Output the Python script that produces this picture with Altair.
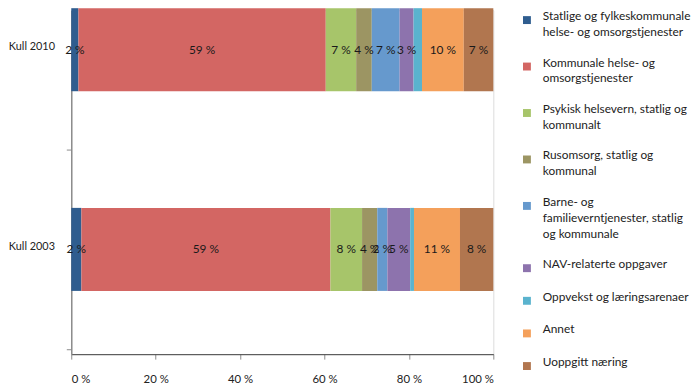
import altair as alt
import pandas as pd

kull = ["Kull 2010", "Kull 2003"]
categories = [
    "Statlige og fylkeskommunale\nhelse- og omsorgstjenester",
    "Kommunale helse- og\nomsorgstjenester",
    "Psykisk helsevern, statlig og\nkommunalt",
    "Rusomsorg, statlig og\nkommunal",
    "Barne- og\nfamilieverntjenester, statlig\nog kommunale",
    "NAV-relaterte oppgaver",
    "Oppvekst og læringsarenaer",
    "Annet",
    "Uoppgitt næring",
]
colors = ["#2F5D8F", "#D36663", "#A7C56A", "#9C9563", "#6699CD",
          "#8D73AD", "#5AB3CE", "#F4A05B", "#B1764F"]
values_2010 = [1.7, 58.6, 7.2, 3.7, 6.6, 3.3, 2.0, 9.9, 7.0]
values_2003 = [2.4, 59.0, 7.5, 3.6, 2.4, 5.4, 0.9, 10.9, 7.9]
labels_2010 = ["2 %", "59 %", "7 %", "4 %", "7 %", "3 %", "", "10 %", "7 %"]
labels_2003 = ["2 %", "59 %", "8 %", "4 %", "2 %", "5 %", "", "11 %", "8 %"]
x_ticks = [0, 20, 40, 60, 80, 100]

series_values = [values_2010, values_2003]
series_labels = [labels_2010, labels_2003]

rows = []
for i, k in enumerate(kull):
    for j, c in enumerate(categories):
        rows.append({
            "kull": k,
            "pos": len(kull) - i - 0.5,
            "cat": c,
            "idx": j,
            "value": series_values[i][j],
            "label": series_labels[i][j],
        })
df = pd.DataFrame(rows)

FONT = "Lato"
W, H = 427, 348
band = 208

y_labels = list(reversed(kull))
label_expr = "[" + ",".join(f"'{k}'" for k in y_labels) + "][datum.value]"

base = alt.Chart(df).transform_stack(
    stack="value", groupby=["kull"], sort=[alt.SortField("idx")], as_=["v0", "v1"]
).transform_calculate(mid="(datum.v0 + datum.v1) / 2")

yenc = alt.Y(
    "pos:Q",
    scale=alt.Scale(domain=[0, H / band], nice=False, zero=True),
    axis=alt.Axis(
        values=[0, 1], labelExpr=label_expr, labelOffset=-band / 2,
        title=None, grid=False, tickSize=5, labelPadding=12,
        domainColor="#8c8c8c", tickColor="#8c8c8c", domainWidth=1.5,
        labelFontSize=11, labelColor="#222222", labelFont=FONT,
    ),
)

bars = base.mark_bar(size=84).encode(
    x=alt.X(
        "v0:Q",
        scale=alt.Scale(domain=[0, 100], nice=False),
        axis=alt.Axis(
            values=x_ticks, labelExpr="datum.value + ' %'", title=None, grid=False,
            tickSize=5, labelPadding=15, domainColor="#404040", domainWidth=1,
            tickColor="#8c8c8c", labelFontSize=11.5, labelColor="#222222",
            labelFont=FONT,
        ),
    ),
    x2="v1:Q",
    y=yenc,
    color=alt.Color(
        "cat:N",
        scale=alt.Scale(domain=categories, range=colors),
        legend=alt.Legend(
            orient="none", legendX=455, legendY=4, title=None,
            symbolType="square", symbolSize=64, symbolStrokeWidth=0,
            labelFont=FONT, labelFontSize=12, labelColor="#222222",
            labelLimit=300, labelOffset=10, rowPadding=19, padding=0,
            labelExpr="split(datum.label, '\\n')", labelBaseline="alphabetic",
        ),
    ),
    order=alt.Order("idx:Q"),
)

texts = base.mark_text(fontSize=12, font=FONT, color="#1a1a1a").encode(
    x=alt.X("mid:Q"),
    y=alt.Y("pos:Q"),
    text="label:N",
)

chart = alt.layer(bars, texts).properties(
    width=W, height=H,
    autosize=alt.AutoSizeParams(type="none"),
    padding={"left": 64, "top": 0, "right": 201, "bottom": 33},
).configure_view(stroke=None).configure(
    style={"guide-label": {"lineHeight": 16}}
)

chart.save("out.html", embed_options={"renderer": "svg", "actions": False})
